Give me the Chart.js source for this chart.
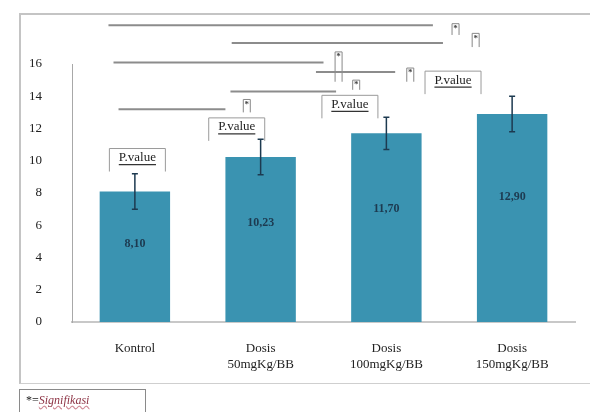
<!DOCTYPE html>
<html>
<head>
<meta charset="utf-8">
<script src="https://cdn.jsdelivr.net/npm/chart.js@4/dist/chart.umd.min.js"></script>
<style>
  html, body { margin: 0; padding: 0; background: #fff; }
  #wrap { position: relative; width: 590px; height: 412px; overflow: hidden; }
  #frame { position: absolute; left: 19px; top: 13px; width: 600px; height: 368px;
           border-left: 2px solid #c4c4c4; border-top: 2px solid #c4c4c4; border-bottom: 1px solid #cfcfcf; }
  #legendBox { position: absolute; left: 19px; top: 389px; width: 127px; height: 30px;
               border: 1px solid #8a8a8a; font: 12px "Liberation Serif", serif; color: #222;
               padding: 3px 0 0 6px; box-sizing: border-box; }
  #legendBox i { color: #8d3344; text-decoration: underline wavy #d08a96; }
  canvas { position: absolute; left: 0; top: 0; }
</style>
</head>
<body>
<div id="wrap">
  <div id="frame"></div>
  <canvas id="chart" width="590" height="412"></canvas>
  <div id="legendBox">*=<i>Signifikasi</i></div>
</div>
<script>
// Data
const categories = [['Kontrol'], ['Dosis', '50mgKg/BB'], ['Dosis', '100mgKg/BB'], ['Dosis', '150mgKg/BB']];
const means = [8.10, 10.23, 11.70, 12.90];
const errors = [1.1, 1.1, 1.0, 1.1];
const valueLabels = ['8,10', '10,23', '11,70', '12,90'];
const yTicks = [0, 2, 4, 6, 8, 10, 12, 14, 16];

// "P.value" boxes (x in category units, y in data units)
const pValueX = [0.02, -0.19, -0.29, -0.47];
const pValueY = [10.2, 12.1, 13.5, 15.0];

// significance lines: from/to in category units, level in data units
const sigFrom = [-0.21, 0.77, -0.17, 1.44, 0.76, -0.13];
const sigTo = [2.37, 2.45, 1.50, 2.07, 1.60, 0.72];
const sigLevel = [18.4, 17.3, 16.1, 15.5, 14.3, 13.2];
const starX = [2.55, 2.71, 1.62, 2.19, 1.76, 0.89];
const starTop = [18.5, 17.9, 16.75, 15.75, 15.0, 13.8];
const starBottom = [17.8, 17.05, 14.9, 14.9, 14.4, 13.0];

const SERIF = '"Liberation Serif", "DejaVu Serif", serif';
const BAR_COLOR = '#3a93b1';
const DARK = '#1d3a50';

// category-unit x -> pixel
function xPix(chart, cx) {
    const xs = chart.scales.x;
    const step = xs.getPixelForValue(1) - xs.getPixelForValue(0);
    return xs.getPixelForValue(0) + cx * step;
}

const annotations = {
    id: 'annotations',
    afterDatasetsDraw(chart) {
        const ctx = chart.ctx;
        const y = chart.scales.y;
        const meta = chart.getDatasetMeta(0);
        ctx.save();

        // error bars
        ctx.strokeStyle = DARK;
        ctx.lineWidth = 1.5;
        means.forEach((m, i) => {
            const cx = meta.data[i].x;
            const top = y.getPixelForValue(m + errors[i]);
            const bot = y.getPixelForValue(m - errors[i]);
            ctx.beginPath();
            ctx.moveTo(cx, top); ctx.lineTo(cx, bot);
            ctx.moveTo(cx - 3, top); ctx.lineTo(cx + 3, top);
            ctx.moveTo(cx - 3, bot); ctx.lineTo(cx + 3, bot);
            ctx.stroke();
        });

        // value labels inside bars
        ctx.fillStyle = DARK;
        ctx.font = 'bold 12px ' + SERIF;
        ctx.textAlign = 'center';
        ctx.textBaseline = 'middle';
        means.forEach((m, i) => {
            ctx.fillText(valueLabels[i], meta.data[i].x, y.getPixelForValue(m * 0.6));
        });

        // P.value boxes
        ctx.font = '13px ' + SERIF;
        pValueX.forEach((px, i) => {
            const cx = xPix(chart, i + px);
            const cy = y.getPixelForValue(pValueY[i]);
            const w = 56, left = cx - w / 2, right = cx + w / 2;
            ctx.fillStyle = '#1e1e1e';
            ctx.fillText('P.value', cx, cy);
            const tw = ctx.measureText('P.value').width;
            ctx.strokeStyle = '#333';
            ctx.lineWidth = 1.2;
            ctx.beginPath();
            ctx.moveTo(cx - tw / 2, cy + 7); ctx.lineTo(cx + tw / 2, cy + 7);
            ctx.stroke();
            ctx.strokeStyle = '#9a9a9a';
            ctx.lineWidth = 1;
            ctx.beginPath();
            ctx.moveTo(left, cy + 14); ctx.lineTo(left, cy - 9);
            ctx.lineTo(right, cy - 9); ctx.lineTo(right, cy + 14);
            ctx.stroke();
        });

        // significance lines and star markers
        sigLevel.forEach((lvl, i) => {
            const ly = y.getPixelForValue(lvl);
            ctx.strokeStyle = '#8c8c8c';
            ctx.lineWidth = 2;
            ctx.beginPath();
            ctx.moveTo(xPix(chart, sigFrom[i]), ly);
            ctx.lineTo(xPix(chart, sigTo[i]), ly);
            ctx.stroke();

            const sx = xPix(chart, starX[i]);
            const st = y.getPixelForValue(starTop[i]);
            const sb = y.getPixelForValue(starBottom[i]);
            ctx.strokeStyle = '#888';
            ctx.lineWidth = 1;
            ctx.beginPath();
            ctx.moveTo(sx - 3.5, sb); ctx.lineTo(sx - 3.5, st);
            ctx.lineTo(sx + 3.5, st); ctx.lineTo(sx + 3.5, sb);
            ctx.stroke();
            ctx.fillStyle = '#444';
            ctx.font = 'bold 9px ' + SERIF;
            ctx.fillText('*', sx, st + 5);
        });

        ctx.restore();
    }
};

new Chart(document.getElementById('chart'), {
    type: 'bar',
    data: {
        labels: categories,
        datasets: [{
            data: means,
            backgroundColor: BAR_COLOR,
            borderWidth: 0,
            categoryPercentage: 1,
            barPercentage: 0.56
        }]
    },
    options: {
        responsive: false,
        animation: false,
        layout: { padding: { top: 64, right: 15, left: 0, bottom: 0 } },
        plugins: {
            legend: { display: false },
            tooltip: { enabled: false }
        },
        scales: {
            x: {
                grid: { display: false },
                border: { color: '#c8c8c8', width: 2 },
                ticks: {
                    color: '#222',
                    font: { family: SERIF, size: 13 },
                    padding: 11,
                    maxRotation: 0
                },
                afterFit(scale) { scale.height = 90; }
            },
            y: {
                min: 0,
                max: 16,
                afterBuildTicks(scale) { scale.ticks = yTicks.map(v => ({ value: v })); },
                grid: { display: false },
                border: { color: '#a8a8a8', width: 1 },
                ticks: {
                    color: '#222',
                    font: { family: SERIF, size: 13 },
                    padding: 22
                },
                afterFit(scale) { scale.width = 72; }
            }
        }
    },
    plugins: [annotations]
});
</script>
</body>
</html>
